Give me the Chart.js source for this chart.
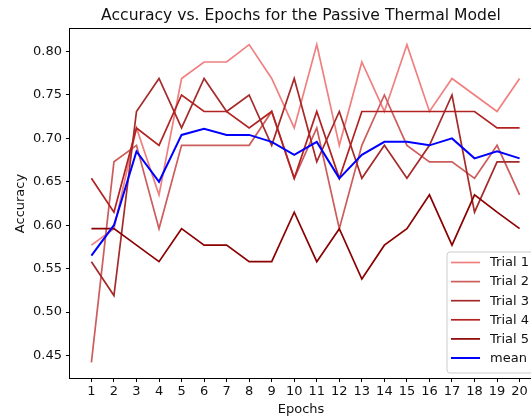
<!DOCTYPE html>
<html>
<head>
<meta charset="utf-8">
<script src="https://cdn.jsdelivr.net/npm/chart.js@4"></script>
<style>
  html, body { margin: 0; padding: 0; background: #fff; overflow: hidden; }
  #wrap { width: 531px; height: 419px; overflow: hidden; }
</style>
</head>
<body>
<div id="wrap"><canvas id="accChart" width="534" height="419"></canvas></div>
<script>
// --- Data ---
const epochs = [1, 2, 3, 4, 5, 6, 7, 8, 9, 10, 11, 12, 13, 14, 15, 16, 17, 18, 19, 20];
const trial1 = [0.577, 0.596, 0.712, 0.635, 0.769, 0.788, 0.788, 0.808, 0.769, 0.712, 0.808, 0.692, 0.788, 0.731, 0.808, 0.731, 0.769, 0.750, 0.731, 0.769];
const trial2 = [0.442, 0.673, 0.692, 0.596, 0.692, 0.692, 0.692, 0.692, 0.731, 0.654, 0.712, 0.596, 0.692, 0.750, 0.692, 0.673, 0.673, 0.654, 0.692, 0.635];
const trial3 = [0.558, 0.519, 0.731, 0.769, 0.712, 0.769, 0.731, 0.750, 0.692, 0.769, 0.673, 0.731, 0.654, 0.692, 0.654, 0.692, 0.750, 0.615, 0.673, 0.673];
const trial4 = [0.654, 0.615, 0.712, 0.692, 0.750, 0.731, 0.731, 0.712, 0.731, 0.654, 0.731, 0.654, 0.731, 0.731, 0.731, 0.731, 0.731, 0.731, 0.712, 0.712];
const trial5 = [0.596, 0.596, 0.577, 0.558, 0.596, 0.577, 0.577, 0.558, 0.558, 0.615, 0.558, 0.596, 0.538, 0.577, 0.596, 0.635, 0.577, 0.635, 0.615, 0.596];
const meanAcc = [0.565, 0.600, 0.685, 0.650, 0.704, 0.711, 0.704, 0.704, 0.696, 0.681, 0.696, 0.654, 0.681, 0.696, 0.696, 0.692, 0.700, 0.677, 0.685, 0.677];
const yTicks = [0.45, 0.50, 0.55, 0.60, 0.65, 0.70, 0.75, 0.80];
const chartTitle = 'Accuracy vs. Epochs for the Passive Thermal Model';

const FONT = '"DejaVu Sans", "Liberation Sans", sans-serif';

function pts(arr) {
  return arr.map((v, i) => ({ x: epochs[i], y: v }));
}

function series(label, data, color, width, order) {
  return {
    label: label,
    data: pts(data),
    borderColor: color,
    backgroundColor: color,
    borderWidth: width,
    pointRadius: 0,
    tension: 0,
    fill: false,
    order: order
  };
}

// box around the axes + title centred over the axes (matplotlib style)
const frame = {
  id: 'frame',
  afterDatasetsDraw(chart) {
    const a = chart.chartArea;
    const ctx = chart.ctx;
    ctx.save();
    ctx.strokeStyle = '#000';
    ctx.lineWidth = 1;
    ctx.strokeRect(Math.round(a.left) - 0.5, Math.round(a.top) - 0.5,
      Math.round(a.right - a.left) + 1, Math.round(a.bottom - a.top) + 1);
    ctx.fillStyle = '#111';
    ctx.font = '15.6px ' + FONT;
    ctx.textAlign = 'center';
    ctx.textBaseline = 'middle';
    ctx.fillText(chartTitle, (a.left + a.right) / 2, 16);
    ctx.restore();
  }
};

// legend in the lower right corner
const boxLegend = {
  id: 'boxLegend',
  afterDraw(chart) {
    const ctx = chart.ctx;
    const x0 = 447, y0 = 252, w = 110, h = 121, r = 3;
    ctx.save();
    ctx.beginPath();
    ctx.moveTo(x0 + r, y0);
    ctx.lineTo(x0 + w - r, y0);
    ctx.arcTo(x0 + w, y0, x0 + w, y0 + r, r);
    ctx.lineTo(x0 + w, y0 + h - r);
    ctx.arcTo(x0 + w, y0 + h, x0 + w - r, y0 + h, r);
    ctx.lineTo(x0 + r, y0 + h);
    ctx.arcTo(x0, y0 + h, x0, y0 + h - r, r);
    ctx.lineTo(x0, y0 + r);
    ctx.arcTo(x0, y0, x0 + r, y0, r);
    ctx.closePath();
    ctx.fillStyle = 'rgba(255,255,255,0.8)';
    ctx.fill();
    ctx.strokeStyle = '#cccccc';
    ctx.lineWidth = 1;
    ctx.stroke();

    ctx.font = '13px ' + FONT;
    ctx.textBaseline = 'middle';
    ctx.textAlign = 'left';
    chart.data.datasets.forEach((ds, i) => {
      const y = 262.5 + i * 19.1;
      ctx.beginPath();
      ctx.strokeStyle = ds.borderColor;
      ctx.lineWidth = ds.borderWidth;
      ctx.moveTo(451, y);
      ctx.lineTo(480, y);
      ctx.stroke();
      ctx.fillStyle = '#111';
      ctx.fillText(ds.label, 490, y + 0.5);
    });
    ctx.restore();
  }
};

const canvas = document.getElementById('accChart');
new Chart(canvas.getContext('2d'), {
  type: 'line',
  data: {
    datasets: [
      series('Trial 1', trial1, '#F08080', 1.7, 6),
      series('Trial 2', trial2, '#CD5C5C', 1.7, 5),
      series('Trial 3', trial3, '#A52A2A', 1.7, 4),
      series('Trial 4', trial4, '#B22222', 1.7, 3),
      series('Trial 5', trial5, '#8B0000', 1.7, 2),
      series('mean', meanAcc, '#0000FF', 2, 1)
    ]
  },
  options: {
    responsive: false,
    devicePixelRatio: 1,
    animation: false,
    layout: { padding: { left: 0, right: 2, top: 29, bottom: 0 } },
    scales: {
      x: {
        type: 'linear',
        min: 0.05,
        max: 20.55,
        afterFit: (s) => { s.height = 41; },
        afterBuildTicks: (s) => { s.ticks = epochs.map(v => ({ value: v })); },
        grid: { display: true, drawOnChartArea: false, drawTicks: true, tickLength: 4, color: '#000' },
        border: { display: false },
        ticks: {
          color: '#111',
          padding: 2,
          maxRotation: 0,
          autoSkip: false,
          font: { family: FONT, size: 13 },
          callback: (v) => String(v)
        },
        title: {
          display: true,
          text: 'Epochs',
          color: '#111',
          font: { family: FONT, size: 13 },
          padding: { top: 0, bottom: 1.2 }
        }
      },
      y: {
        min: 0.424,
        max: 0.826,
        afterFit: (s) => { s.width = 70; },
        afterBuildTicks: (s) => { s.ticks = yTicks.map(v => ({ value: v })); },
        grid: { display: true, drawOnChartArea: false, drawTicks: true, tickLength: 4, color: '#000' },
        border: { display: false },
        ticks: {
          color: '#111',
          padding: 4,
          autoSkip: false,
          font: { family: FONT, size: 13 },
          callback: (v) => Number(v).toFixed(2)
        },
        title: {
          display: true,
          text: 'Accuracy',
          color: '#111',
          font: { family: FONT, size: 13 },
          padding: { top: 13, bottom: 0 }
        }
      }
    },
    plugins: {
      legend: { display: false },
      tooltip: { enabled: false },
      title: { display: false }
    }
  },
  plugins: [frame, boxLegend]
});
</script>
</body>
</html>
